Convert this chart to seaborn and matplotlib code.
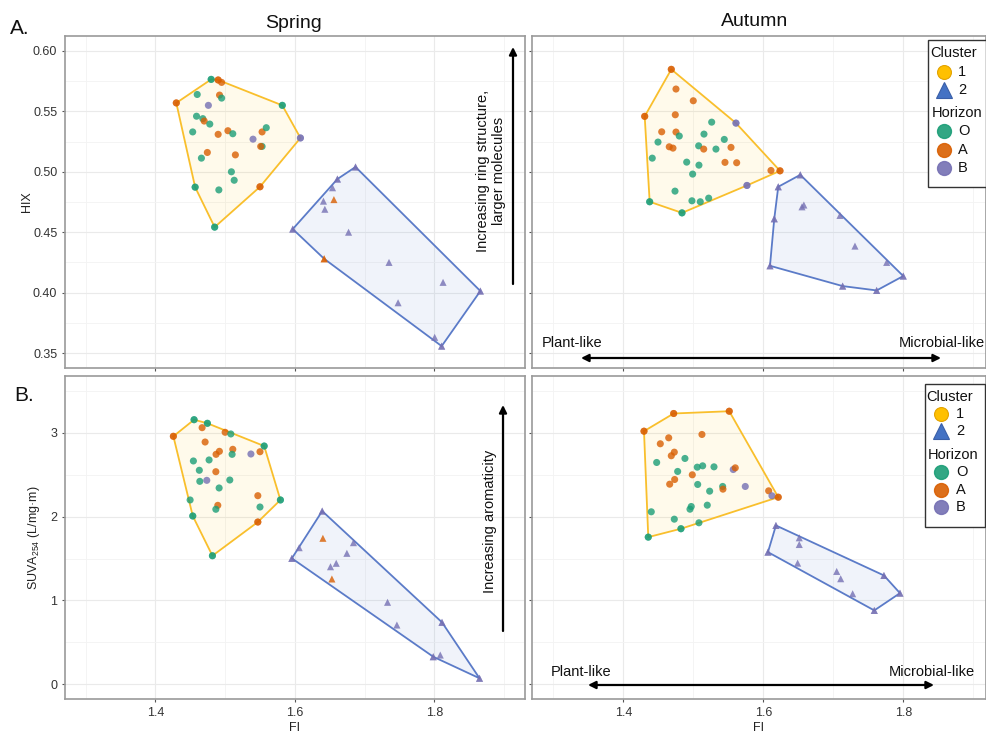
import numpy as np
import pandas as pd
import seaborn as sns
import matplotlib.pyplot as plt
from matplotlib.lines import Line2D
from matplotlib.patches import Rectangle
from matplotlib.ticker import MultipleLocator, FormatStrFormatter

sns.set_theme(style="white")
plt.rcParams["font.family"] = ["Liberation Sans", "DejaVu Sans"]
plt.rcParams["mathtext.default"] = "regular"

# ---------------- data ----------------
# Spring, HIX
spring_hix_c1_fi = [1.430, 1.480, 1.490, 1.495, 1.460, 1.492, 1.495, 1.476, 1.582, 1.459, 1.468,
                    1.470, 1.478, 1.4535, 1.490, 1.504, 1.511, 1.540, 1.553, 1.559, 1.553, 1.551,
                    1.608, 1.4745, 1.466, 1.5147, 1.509, 1.513, 1.457, 1.491, 1.550, 1.485]
spring_hix_c1_y = [0.557, 0.5765, 0.576, 0.574, 0.564, 0.5635, 0.561, 0.555, 0.555, 0.546, 0.544,
                   0.542, 0.5395, 0.533, 0.531, 0.534, 0.5315, 0.527, 0.533, 0.5365, 0.521, 0.521,
                   0.528, 0.516, 0.5113, 0.514, 0.500, 0.493, 0.4873, 0.485, 0.4876, 0.4542]
spring_hix_c1_hor = "AOAAOAOBOOOAOOAAOBAOOABAOAOOOOAO"

spring_hix_c2_fi = [1.687, 1.661, 1.654, 1.641, 1.656, 1.643, 1.597, 1.677, 1.642, 1.735, 1.8125,
                    1.748, 1.866, 1.8005, 1.8105]
spring_hix_c2_y = [0.504, 0.494, 0.4868, 0.4757, 0.477, 0.469, 0.4526, 0.450, 0.428, 0.425, 0.4085,
                   0.3916, 0.4013, 0.363, 0.3557]
spring_hix_c2_hor = "BBBBABBBABBBBBB"

# Autumn, HIX
autumn_hix_c1_fi = [1.4686, 1.4753, 1.500, 1.4306, 1.4743, 1.5263, 1.561, 1.4549, 1.4753, 1.480,
                    1.5153, 1.4496, 1.5443, 1.4657, 1.471, 1.5077, 1.5149, 1.5324, 1.5539, 1.4414,
                    1.4906, 1.5081, 1.5453, 1.562, 1.4991, 1.611, 1.6239, 1.5767, 1.4739, 1.4377,
                    1.4981, 1.510, 1.522, 1.4839]
autumn_hix_c1_y = [0.5848, 0.5685, 0.5588, 0.5459, 0.5472, 0.5411, 0.5403, 0.5331, 0.5329, 0.5296,
                   0.5312, 0.5246, 0.5268, 0.5207, 0.5196, 0.5215, 0.5188, 0.5188, 0.5202, 0.5113,
                   0.508, 0.5055, 0.5078, 0.5075, 0.4981, 0.5011, 0.5008, 0.4887, 0.484, 0.4752,
                   0.476, 0.4752, 0.4782, 0.466]
autumn_hix_c1_hor = "AAAAAOBAAOOOOAAOAOAOOOAAOAABOOOOOO"

autumn_hix_c2_fi = [1.6529, 1.6214, 1.6553, 1.658, 1.6157, 1.6096, 1.7096, 1.731, 1.7763, 1.800,
                    1.7134, 1.762]
autumn_hix_c2_y = [0.4975, 0.4876, 0.471, 0.4725, 0.4611, 0.4222, 0.4639, 0.4385, 0.425, 0.4137,
                   0.4054, 0.4018]
autumn_hix_c2_hor = "BBBBBBBBBBBB"

# Spring, SUVA254
spring_suva_c1_fi = [1.4258, 1.4555, 1.4746, 1.467, 1.500, 1.5082, 1.4713, 1.556, 1.550, 1.511,
                     1.4918, 1.487, 1.510, 1.537, 1.4545, 1.477, 1.463, 1.4867, 1.4637, 1.4737,
                     1.5067, 1.4914, 1.4498, 1.5469, 1.5793, 1.4895, 1.4867, 1.550, 1.4536, 1.5469,
                     1.4818]
spring_suva_c1_y = [2.957, 3.155, 3.112, 3.06, 3.005, 2.985, 2.889, 2.841, 2.773, 2.802, 2.778,
                    2.742, 2.742, 2.746, 2.663, 2.675, 2.552, 2.535, 2.42, 2.432, 2.436, 2.341,
                    2.198, 2.249, 2.198, 2.134, 2.087, 2.114, 2.007, 1.935, 1.533]
spring_suva_c1_hor = "AOOAAOAOAAAAOBOOOAOBOOOAOAOOOAO"

spring_suva_c2_fi = [1.6392, 1.6062, 1.5957, 1.6402, 1.684, 1.6746, 1.6593, 1.6511, 1.6531, 1.7329,
                     1.7463, 1.811, 1.7984, 1.8085, 1.8648]
spring_suva_c2_y = [2.066, 1.629, 1.502, 1.741, 1.689, 1.562, 1.443, 1.402, 1.256, 0.978, 0.707,
                    0.739, 0.329, 0.349, 0.072]
spring_suva_c2_hor = "BBBABBBBABBBBBB"

# Autumn, SUVA254
autumn_suva_c1_fi = [1.472, 1.5514, 1.4296, 1.5124, 1.4649, 1.4529, 1.4729, 1.4686, 1.4477, 1.4881,
                     1.4777, 1.5057, 1.5134, 1.5296, 1.5571, 1.560, 1.4986, 1.4734, 1.4663, 1.5063,
                     1.542, 1.5424, 1.5743, 1.5234, 1.6077, 1.6124, 1.6214, 1.440, 1.520, 1.4971,
                     1.4953, 1.4729, 1.4824, 1.5081, 1.4357]
autumn_suva_c1_y = [3.229, 3.256, 3.018, 2.979, 2.939, 2.868, 2.768, 2.725, 2.645, 2.693, 2.538,
                    2.589, 2.605, 2.593, 2.561, 2.581, 2.498, 2.442, 2.386, 2.383, 2.359, 2.327,
                    2.359, 2.303, 2.307, 2.248, 2.231, 2.057, 2.136, 2.12, 2.088, 1.969, 1.855,
                    1.926, 1.755]
autumn_suva_c1_hor = "AAAAAAAAOOOOOOBAAAAOOABOABAOOOOOOOO"

autumn_suva_c2_fi = [1.6181, 1.6514, 1.6514, 1.6067, 1.6491, 1.7049, 1.7106, 1.7724, 1.7277, 1.7953,
                     1.7586]
autumn_suva_c2_y = [1.894, 1.747, 1.667, 1.576, 1.445, 1.346, 1.259, 1.298, 1.08, 1.087, 0.881]
autumn_suva_c2_hor = "BBBBBBBBBBB"

seasons = ["Spring", "Autumn"]
horizon_order = ["O", "A", "B"]
cluster_order = [1, 2]

# ---------------- styling ----------------
W, H = 987, 735
HORIZON_COLORS = {"O": "#1B9E77", "A": "#D95F02", "B": "#7570B3"}
CLUSTER_MARKERS = {1: "o", 2: "^"}
HULL_LINE = {1: "#F9BF2C", 2: "#5B7BC8"}
HULL_FILL = {1: "#FFC000", 2: "#4472C4"}
LEGEND_FACE = {1: "#FFC000", 2: "#4472C4"}
LEGEND_EDGE = {1: "#E3A300", 2: "#3A5FA8"}


def frame(fi, val, hor, cluster):
    return pd.DataFrame({"FI": fi, "value": val, "Horizon": list(hor),
                         "Cluster": [cluster] * len(fi)})


def convex_hull(xs, ys):
    pts = sorted(set(zip(xs, ys)))
    if len(pts) < 3:
        return pts

    def cross(o, a, b):
        return (a[0] - o[0]) * (b[1] - o[1]) - (a[1] - o[1]) * (b[0] - o[0])

    lower, upper = [], []
    for p in pts:
        while len(lower) >= 2 and cross(lower[-2], lower[-1], p) <= 0:
            lower.pop()
        lower.append(p)
    for p in reversed(pts):
        while len(upper) >= 2 and cross(upper[-2], upper[-1], p) <= 0:
            upper.pop()
        upper.append(p)
    return lower[:-1] + upper[:-1]


def px_axes(fig, left, top, right, bottom):
    return fig.add_axes([left / W, 1 - bottom / H, (right - left) / W, (bottom - top) / H])


def fx(x):
    return x / W


def fy(y):
    return 1 - y / H


def draw_panel(ax, clusters, xlim, ylim, ymaj, ymin, yfmt):
    sx = (xlim[1] - xlim[0])
    sy = (ylim[1] - ylim[0])
    vertex_frames = []
    for df in clusters:
        c = int(df["Cluster"].iloc[0])
        # hull computed in the displayed aspect, then mapped back to data units
        hull = convex_hull(list(df["FI"] / sx), list(df["value"] / sy))
        hx = [p[0] * sx for p in hull]
        hy = [p[1] * sy for p in hull]
        ax.fill(hx, hy, facecolor=HULL_FILL[c], alpha=0.08, edgecolor="none", zorder=1)
        ax.plot(hx + hx[:1], hy + hy[:1], color=HULL_LINE[c], lw=1.3, zorder=2,
                solid_joinstyle="round")
        keys = set(zip(np.round(hx, 6), np.round(hy, 6)))
        mask = [(round(a, 6), round(b, 6)) in keys for a, b in zip(df["FI"], df["value"])]
        vertex_frames.append(df[mask])

    data = pd.concat(clusters, ignore_index=True)
    sns.scatterplot(data=data, x="FI", y="value", hue="Horizon", hue_order=horizon_order,
                    palette=HORIZON_COLORS, style="Cluster", style_order=cluster_order,
                    markers=CLUSTER_MARKERS, s=26, alpha=0.8, linewidth=0, legend=False,
                    ax=ax, zorder=3)
    verts = pd.concat(vertex_frames, ignore_index=True)
    sns.scatterplot(data=verts, x="FI", y="value", hue="Horizon", hue_order=horizon_order,
                    palette=HORIZON_COLORS, style="Cluster", style_order=cluster_order,
                    markers=CLUSTER_MARKERS, s=26, alpha=0.55, linewidth=0, legend=False,
                    ax=ax, zorder=4)

    ax.set_xlim(*xlim)
    ax.set_ylim(*ylim)
    ax.xaxis.set_major_locator(MultipleLocator(0.2))
    ax.xaxis.set_minor_locator(MultipleLocator(0.1))
    ax.xaxis.set_major_formatter(FormatStrFormatter("%.1f"))
    ax.yaxis.set_major_locator(MultipleLocator(ymaj))
    ax.yaxis.set_minor_locator(MultipleLocator(ymin))
    ax.yaxis.set_major_formatter(FormatStrFormatter(yfmt))
    ax.set_axisbelow(True)
    ax.grid(which="major", color="#EAEAEA", lw=0.8)
    ax.grid(which="minor", color="#F3F3F3", lw=0.6)
    ax.tick_params(which="major", bottom=True, left=True, length=2.5, width=0.8,
                   color="#555555", pad=3, labelsize=9, labelcolor="#333333")
    ax.tick_params(which="minor", length=0)
    for sp in ax.spines.values():
        sp.set_color("#9A9A9A")
        sp.set_linewidth(1.2)
    ax.set_xlabel("")
    ax.set_ylabel("")


fig = plt.figure(figsize=(W / 100, H / 100), dpi=100)

hix_ylim = (0.3376, 0.6124)
suva_ylim = (-0.175, 3.676)
left_xlim = (1.2704, 1.930)
right_xlim = (1.2696, 1.9182)

ax_tl = px_axes(fig, 65, 36, 525, 368)
ax_tr = px_axes(fig, 532, 36, 986, 368)
ax_bl = px_axes(fig, 65, 376, 525, 699)
ax_br = px_axes(fig, 532, 376, 986, 699)

draw_panel(ax_tl, [frame(spring_hix_c1_fi, spring_hix_c1_y, spring_hix_c1_hor, 1),
                   frame(spring_hix_c2_fi, spring_hix_c2_y, spring_hix_c2_hor, 2)],
           left_xlim, hix_ylim, 0.05, 0.025, "%.2f")
draw_panel(ax_tr, [frame(autumn_hix_c1_fi, autumn_hix_c1_y, autumn_hix_c1_hor, 1),
                   frame(autumn_hix_c2_fi, autumn_hix_c2_y, autumn_hix_c2_hor, 2)],
           right_xlim, hix_ylim, 0.05, 0.025, "%.2f")
draw_panel(ax_bl, [frame(spring_suva_c1_fi, spring_suva_c1_y, spring_suva_c1_hor, 1),
                   frame(spring_suva_c2_fi, spring_suva_c2_y, spring_suva_c2_hor, 2)],
           left_xlim, suva_ylim, 1, 0.5, "%d")
draw_panel(ax_br, [frame(autumn_suva_c1_fi, autumn_suva_c1_y, autumn_suva_c1_hor, 1),
                   frame(autumn_suva_c2_fi, autumn_suva_c2_y, autumn_suva_c2_hor, 2)],
           right_xlim, suva_ylim, 1, 0.5, "%d")

ax_tl.tick_params(labelbottom=False)
ax_tr.tick_params(labelbottom=False, labelleft=False)
ax_br.tick_params(labelleft=False)

# axis titles
ax_tl.set_ylabel("HIX", fontsize=9, color="#222222")
ax_tl.yaxis.set_label_coords(-0.069, 0.5)
ax_bl.set_ylabel("SUVA$_{254}$ (L/mg\u00b7m)", fontsize=9, color="#222222")
ax_bl.yaxis.set_label_coords(-0.05, 0.5)
for ax in (ax_bl, ax_br):
    ax.set_xlabel("FI", fontsize=9, color="#222222")
    ax.xaxis.set_label_coords(0.5, -0.072)

# column titles and panel letters
fig.text(fx(294), fy(23), seasons[0], ha="center", va="center", fontsize=14, color="#111111")
fig.text(fx(755), fy(21), seasons[1], ha="center", va="center", fontsize=14, color="#111111")
fig.text(fx(10), fy(29), "A.", ha="left", va="center", fontsize=15, color="#111111")
fig.text(fx(14), fy(395.5), "B.", ha="left", va="center", fontsize=15, color="#111111")

# interpretive arrows
arrow_kw = dict(arrowstyle="-|>", color="black", lw=1.6, mutation_scale=11, shrinkA=0, shrinkB=0)
double_kw = dict(arrowstyle="<|-|>", color="black", lw=1.6, mutation_scale=11, shrinkA=0, shrinkB=0)


def fig_pix(x, y):
    return (x, H - y)


ax_tl.annotate("", xy=fig_pix(513, 47), xytext=fig_pix(513, 284), xycoords="figure pixels",
               textcoords="figure pixels", arrowprops=arrow_kw)
fig.text(fx(491), fy(171), "Increasing ring structure,\nlarger molecules", rotation=90,
         ha="center", va="center", fontsize=10.5, linespacing=1.1, color="#111111")

ax_bl.annotate("", xy=fig_pix(503, 405), xytext=fig_pix(503, 631), xycoords="figure pixels",
               textcoords="figure pixels", arrowprops=arrow_kw)
fig.text(fx(490), fy(521), "Increasing aromaticity", rotation=90,
         ha="center", va="center", fontsize=10.5, color="#111111")

ax_tr.annotate("", xy=fig_pix(581, 358), xytext=fig_pix(941, 358), xycoords="figure pixels",
               textcoords="figure pixels", arrowprops=double_kw)
fig.text(fx(542), fy(343), "Plant-like", ha="left", va="center", fontsize=10.5, color="#111111")
fig.text(fx(985), fy(343), "Microbial-like", ha="right", va="center", fontsize=10.5,
         color="#111111")

ax_br.annotate("", xy=fig_pix(588, 685), xytext=fig_pix(934, 685), xycoords="figure pixels",
               textcoords="figure pixels", arrowprops=double_kw)
fig.text(fx(551), fy(672), "Plant-like", ha="left", va="center", fontsize=10.5, color="#111111")
fig.text(fx(975), fy(672), "Microbial-like", ha="right", va="center", fontsize=10.5,
         color="#111111")


# legends
def draw_legend(box, rows, marker_x, label_x):
    left, top, right, bottom = box
    fig.patches.append(Rectangle((fx(left), fy(bottom)), (right - left) / W, (bottom - top) / H,
                                 transform=fig.transFigure, facecolor="white",
                                 edgecolor="#333333", lw=1.0, zorder=10))
    for kind, text, y, key in rows:
        if kind == "title":
            fig.text(fx(text[1]), fy(y), text[0], ha="left", va="center", fontsize=10.5,
                     color="#111111", zorder=11)
        elif kind == "cluster":
            fig.add_artist(Line2D([fx(marker_x)], [fy(y)], transform=fig.transFigure,
                                  marker=CLUSTER_MARKERS[key], markersize=10 if key == 1 else 11,
                                  markerfacecolor=LEGEND_FACE[key], markeredgecolor=LEGEND_EDGE[key],
                                  markeredgewidth=0.8, linestyle="none", zorder=11))
            fig.text(fx(label_x), fy(y), text, ha="left", va="center", fontsize=10.5,
                     color="#111111", zorder=11)
        else:
            fig.add_artist(Line2D([fx(marker_x)], [fy(y)], transform=fig.transFigure,
                                  marker="o", markersize=10, markerfacecolor=HORIZON_COLORS[key],
                                  markeredgecolor=HORIZON_COLORS[key], alpha=0.9,
                                  linestyle="none", zorder=11))
            fig.text(fx(label_x), fy(y), text, ha="left", va="center", fontsize=10.5,
                     color="#111111", zorder=11)


draw_legend((928, 40, 986, 187),
            [("title", ("Cluster", 930), 53, None),
             ("cluster", str(cluster_order[0]), 72, 1),
             ("cluster", str(cluster_order[1]), 90, 2),
             ("title", ("Horizon", 932), 113, None),
             ("horizon", horizon_order[0], 131, "O"),
             ("horizon", horizon_order[1], 150, "A"),
             ("horizon", horizon_order[2], 168, "B")],
            944, 958)
draw_legend((925, 384, 985, 527),
            [("title", ("Cluster", 926), 397, None),
             ("cluster", str(cluster_order[0]), 414, 1),
             ("cluster", str(cluster_order[1]), 431, 2),
             ("title", ("Horizon", 928), 455, None),
             ("horizon", horizon_order[0], 472, "O"),
             ("horizon", horizon_order[1], 490, "A"),
             ("horizon", horizon_order[2], 507, "B")],
            941, 956)

fig.savefig("out.png", dpi=100)
